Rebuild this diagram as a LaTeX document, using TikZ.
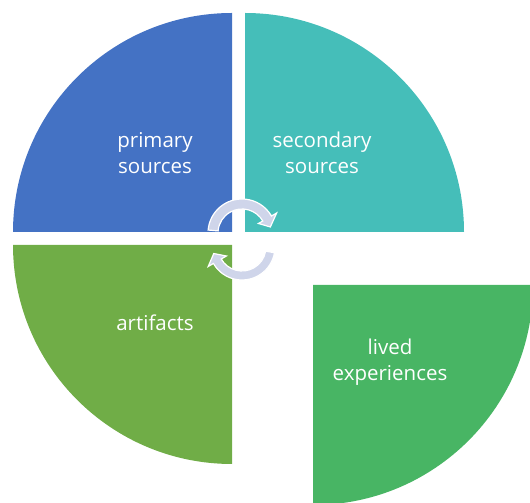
\documentclass[tikz,border=0pt]{standalone}
\usepackage{fontspec}
\setmainfont{Open Sans}
\usepackage{tikz}
\tikzset{
  sector/.style={draw=none},
  quarter text/.style={text=white,align=center,inner sep=0pt,font=\fontsize{20.5}{26.5}\selectfont},
  cycle arrow/.style={fill={rgb,255:red,207;green,213;blue,234},draw=white,line width=1.2pt,line join=miter}
}

\begin{document}
\begin{tikzpicture}[x=1pt,y=1pt]
\useasboundingbox (0,0) rectangle (530,503);
\clip (0,0) rectangle (530,503);

% quarters
\fill[sector,fill={rgb,255:red,68;green,114;blue,196}] (232,271) -- (13,271) arc[start angle=180,end angle=90,radius=219] -- cycle;
\fill[sector,fill={rgb,255:red,69;green,190;blue,185}] (245,271) -- (245,490) arc[start angle=90,end angle=0,radius=219] -- cycle;
\fill[sector,fill={rgb,255:red,112;green,173;blue,71}] (232,258) -- (13,258) arc[start angle=180,end angle=270,radius=219] -- cycle;
\fill[sector,fill={rgb,255:red,72;green,181;blue,100}] (313,218) -- (533,218) arc[start angle=0,end angle=-90,radius=220] -- cycle;

% labels
\path (155,350) node[quarter text] (primary) {primary\\sources};
\path (322,350) node[quarter text] (secondary) {secondary\\sources};
\path (155,180) node[quarter text] (artifacts) {artifacts};
\path (390,141) node[quarter text] (lived) {lived\\experiences};

% cycle arrows
\filldraw[cycle arrow,shift={(242,270)}] (175:34) arc[start angle=175,end angle=30,radius=34]
  -- (30:40) -- (12:29) -- (30:19) -- (30:24) arc[start angle=30,end angle=175,radius=24] -- cycle;
\filldraw[cycle arrow,shift={(242,256)}] (-10:33) arc[start angle=-10,end angle=-150,radius=33]
  -- (-150:39) -- (-167:29) -- (-150:18) -- (-150:24) arc[start angle=-150,end angle=-10,radius=24] -- cycle;

\end{tikzpicture}
\end{document}
